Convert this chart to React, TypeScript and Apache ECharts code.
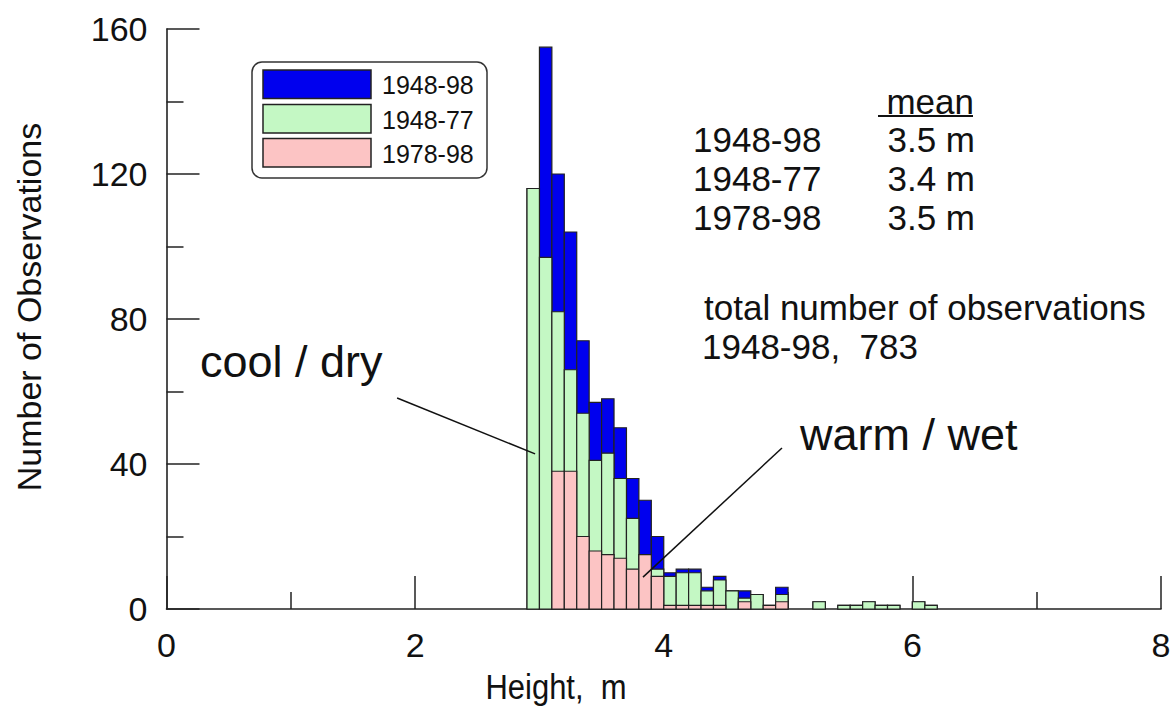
import React, { useEffect, useRef } from "react";
import * as echarts from "echarts";

// Bin start (m); each bin is 0.1 m wide
const binStart = [2.9, 3.0, 3.1, 3.2, 3.3, 3.4, 3.5, 3.6, 3.7, 3.8, 3.9, 4.0, 4.1, 4.2, 4.3, 4.4, 4.5, 4.6, 4.7, 4.8, 4.9, 5.0, 5.1, 5.2, 5.3, 5.4, 5.5, 5.6, 5.7, 5.8, 5.9, 6.0, 6.1];
const obs1948_98 = [116, 155, 120, 104, 74, 57, 58, 50, 36, 30, 20, 10, 11, 11, 6, 9, 5, 5, 4, 1, 6, 0, 0, 2, 0, 1, 1, 2, 1, 1, 0, 2, 1];
const obs1948_77 = [116, 97, 82, 66, 54, 41, 43, 36, 25, 15, 11, 9, 10, 10, 5, 8, 5, 3, 4, 0, 4, 0, 0, 2, 0, 1, 1, 2, 1, 1, 0, 2, 1];
const obs1978_98 = [0, 0, 38, 38, 20, 16, 15, 14, 11, 15, 9, 1, 1, 1, 1, 1, 0, 2, 0, 1, 2, 0, 0, 0, 0, 0, 0, 0, 0, 0, 0, 0, 0];
const binWidth = 0.1;

const seriesNames = ["1948-98", "1948-77", "1978-98"];
const seriesColors = ["#0000ee", "#c4f8c4", "#fcc4c4"];

const meanPeriods = ["1948-98", "1948-77", "1978-98"];
const meanValues = ["3.5 m", "3.4 m", "3.5 m"];
const totalObs = 783;

// leader lines in data coordinates [height, count]
const coolDryLeader = [[1.855, 58.2], [2.965, 42.8]];
const warmWetLeader = [[4.951, 44.4], [3.833, 8.8]];

const FONT = "'Liberation Sans', Arial, Helvetica, sans-serif";
const INK = "#111";

function makeBarSeries(name: string, values: number[], color: string) {
  const data = binStart
    .map((x, i) => [x, values[i]])
    .filter((d) => d[1] > 0);
  return {
    type: "custom",
    name,
    data,
    encode: { x: 0, y: 1 },
    renderItem: (params: any, api: any) => {
      const x0 = api.value(0);
      const v = api.value(1);
      const p0 = api.coord([x0, 0]);
      const p1 = api.coord([x0 + binWidth, v]);
      return {
        type: "rect",
        shape: { x: p0[0], y: p1[1], width: p1[0] - p0[0], height: p0[1] - p1[1] },
        style: { fill: color, stroke: "#222", lineWidth: 1.2 },
      };
    },
  };
}

export default function App() {
  const ref = useRef<HTMLDivElement>(null);
  useEffect(() => {
    if (!ref.current) return;
    const chart = echarts.init(ref.current, null, { renderer: "svg" });

    const legendX = 252;
    const legendY = 62;
    const legendRows = [70, 104.5, 138.5];
    const legendGraphic: any[] = [
      {
        type: "rect",
        shape: { x: legendX, y: legendY, width: 235, height: 116, r: 10 },
        style: { fill: "#fff", stroke: "#333", lineWidth: 1.5 },
        z: 10,
      },
    ];
    seriesNames.forEach((n, i) => {
      legendGraphic.push({
        type: "rect",
        shape: { x: 263, y: legendRows[i], width: 108, height: 28.5 },
        style: { fill: seriesColors[i], stroke: "#222", lineWidth: 1.5 },
        z: 11,
      });
      legendGraphic.push({
        type: "text",
        x: 382,
        y: legendRows[i] + 15,
        style: { text: n, font: `25px ${FONT}`, fill: INK, align: "left", verticalAlign: "middle" },
        z: 11,
      });
    });

    const meanGraphic: any[] = [
      {
        type: "text",
        x: 974,
        y: 101,
        style: { text: "mean", font: `35px ${FONT}`, fill: INK, align: "right", verticalAlign: "middle" },
      },
      {
        type: "line",
        shape: { x1: 878, y1: 116, x2: 973, y2: 116 },
        style: { stroke: INK, lineWidth: 2 },
      },
    ];
    const rowCenters = [139.5, 178.5, 217];
    meanPeriods.forEach((p, i) => {
      meanGraphic.push({
        type: "text",
        x: 693,
        y: rowCenters[i],
        style: { text: p, font: `35px ${FONT}`, fill: INK, align: "left", verticalAlign: "middle" },
      });
      meanGraphic.push({
        type: "text",
        x: 975,
        y: rowCenters[i],
        style: { text: meanValues[i], font: `35px ${FONT}`, fill: INK, align: "right", verticalAlign: "middle" },
      });
    });

    const option: any = {
      animation: false,
      backgroundColor: "#fff",
      textStyle: { fontFamily: FONT },
      grid: { left: 166.5, right: 13, top: 29, bottom: 98, containLabel: false },
      xAxis: {
        type: "value",
        min: 0,
        max: 8,
        interval: 2,
        axisLine: { show: true, lineStyle: { color: "#222", width: 1.6 } },
        axisTick: { show: true, inside: true, length: 33, lineStyle: { color: "#222", width: 1.5 } },
        minorTick: { show: true, splitNumber: 2, length: 17, lineStyle: { color: "#222", width: 1.5 } },
        splitLine: { show: false },
        axisLabel: { fontSize: 34, color: INK, margin: 19, fontFamily: FONT },
      },
      yAxis: {
        type: "value",
        min: 0,
        max: 160,
        interval: 40,
        axisLine: { show: true, lineStyle: { color: "#222", width: 1.6 } },
        axisTick: { show: true, inside: true, length: 33, lineStyle: { color: "#222", width: 1.5 } },
        minorTick: { show: true, splitNumber: 2, length: 17, lineStyle: { color: "#222", width: 1.5 } },
        splitLine: { show: false },
        axisLabel: { fontSize: 34, color: INK, margin: 19, fontFamily: FONT },
      },
      series: [
        makeBarSeries(seriesNames[0], obs1948_98, seriesColors[0]),
        makeBarSeries(seriesNames[1], obs1948_77, seriesColors[1]),
        makeBarSeries(seriesNames[2], obs1978_98, seriesColors[2]),
        {
          type: "line",
          name: "cool-dry-leader",
          data: coolDryLeader,
          showSymbol: false,
          symbol: "none",
          lineStyle: { color: INK, width: 1.5 },
          z: 5,
          silent: true,
        },
        {
          type: "line",
          name: "warm-wet-leader",
          data: warmWetLeader,
          showSymbol: false,
          symbol: "none",
          lineStyle: { color: INK, width: 1.5 },
          z: 5,
          silent: true,
        },
      ],
      graphic: [
        {
          type: "text",
          x: 29,
          y: 307,
          rotation: Math.PI / 2,
          style: {
            text: "Number of Observations",
            font: `34px ${FONT}`,
            fill: INK,
            align: "center",
            verticalAlign: "middle",
          },
        },
        {
          type: "text",
          x: 556,
          y: 687,
          scaleY: 1.15,
          style: { text: "Height,  m", font: `31px ${FONT}`, fill: INK, align: "center", verticalAlign: "middle" },
        },
        ...legendGraphic,
        ...meanGraphic,
        {
          type: "text",
          x: 704,
          y: 307,
          style: {
            text: "total number of observations",
            font: `35px ${FONT}`,
            fill: INK,
            align: "left",
            verticalAlign: "middle",
          },
        },
        {
          type: "text",
          x: 702,
          y: 346,
          style: {
            text: `1948-98,  ${totalObs}`,
            font: `35px ${FONT}`,
            fill: INK,
            align: "left",
            verticalAlign: "middle",
          },
        },
        {
          type: "text",
          x: 200,
          y: 361,
          style: { text: "cool / dry", font: `45px ${FONT}`, fill: INK, align: "left", verticalAlign: "middle" },
        },
        {
          type: "text",
          x: 800,
          y: 434,
          style: { text: "warm / wet", font: `45px ${FONT}`, fill: INK, align: "left", verticalAlign: "middle" },
        },
      ],
    };
    chart.setOption(option);
    return () => chart.dispose();
  }, []);
  return (
    <div
      ref={ref}
      style={{ position: "fixed", left: 0, top: 0, width: 1174, height: 707, background: "#fff" }}
    />
  );
}
